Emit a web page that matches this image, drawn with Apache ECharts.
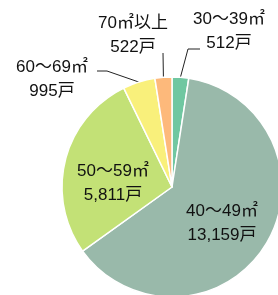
<!DOCTYPE html>
<html>
<head>
<meta charset="utf-8">
<script src="https://cdn.jsdelivr.net/npm/echarts@6/dist/echarts.min.js"></script>
<style>
  html, body { margin: 0; padding: 0; background: #fff; }
  #chart { width: 278px; height: 295px; }
</style>
</head>
<body>
<div id="chart"></div>
<script>
// 床面積別の戸数
var categories = ["30～39㎡", "40～49㎡", "50～59㎡", "60～69㎡", "70㎡以上"];
var households = [512, 13159, 5811, 995, 522];
var sliceColors = ["#70c7a1", "#99b9aa", "#c3e176", "#f9f07b", "#fdb97b"];

// label centres and leader line bends (px)
var labelPos = [[229, 31], [222, 223], [113, 183], [52, 79], [133, 35]];
var labelBend = [
  [[188, 49], [200, 49]],
  null,
  null,
  [[107, 71], [97, 71]],
  [[163, 53], [163, 53]]
];
var insideIdx = [1, 2];

var chart = echarts.init(document.getElementById("chart"));

var pieData = categories.map(function (name, i) {
  var inside = insideIdx.indexOf(i) >= 0;
  return {
    name: name,
    value: households[i],
    itemStyle: { color: sliceColors[i] },
    label: { position: inside ? "inside" : "outside" },
    labelLine: { show: !inside }
  };
});

var option = {
  animation: false,
  series: [
    {
      type: "pie",
      center: [172, 187],
      radius: 110,
      startAngle: 90,
      clockwise: true,
      avoidLabelOverlap: false,
      itemStyle: {
        borderColor: "#fff",
        borderWidth: 1.5
      },
      label: {
        show: true,
        color: "#111",
        fontSize: 17,
        lineHeight: 24,
        fontFamily: "'Liberation Sans', 'Noto Sans CJK JP', sans-serif",
        align: "center",
        formatter: function (p) {
          return p.name + "\n" + p.value.toLocaleString("en-US") + "戸";
        }
      },
      labelLine: {
        lineStyle: { color: "#222", width: 1 }
      },
      labelLayout: function (params) {
        var i = params.dataIndex;
        var out = {
          x: labelPos[i][0],
          y: labelPos[i][1],
          align: "center",
          verticalAlign: "middle"
        };
        if (labelBend[i] && params.labelLinePoints) {
          var start = params.labelLinePoints[0];
          out.labelLinePoints = [start].concat(labelBend[i]);
        }
        return out;
      },
      data: pieData
    }
  ]
};

chart.setOption(option);

window.addEventListener("resize", function () {
  chart.resize();
});
</script>
</body>
</html>
